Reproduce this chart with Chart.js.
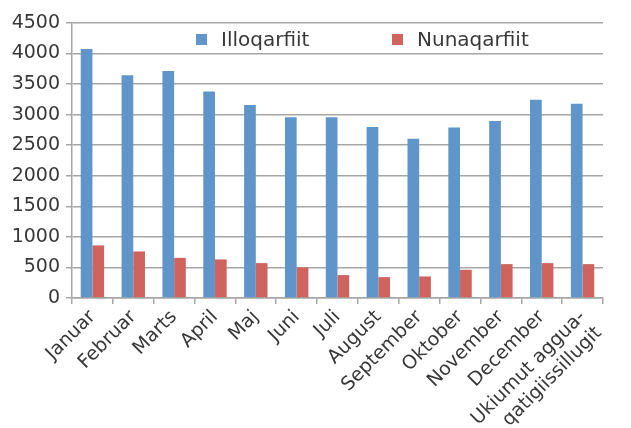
<!DOCTYPE html>
<html>
<head>
<meta charset="utf-8">
<script src="https://cdn.jsdelivr.net/npm/chart.js@4"></script>
<style>
    html, body { margin: 0; padding: 0; background: #fff; overflow: hidden; }
    .wrap { position: relative; width: 631px; height: 428px; }
</style>
</head>
<body>
<div class="wrap"><canvas id="barChart"></canvas></div>
<script>
        const months = ['Januar', 'Februar', 'Marts', 'April', 'Maj', 'Juni', 'Juli', 'August',
            'September', 'Oktober', 'November', 'December', ['Ukiumut aggua-', 'qatigiissillugit']];
        const illoqarfiit = [4075, 3645, 3715, 3380, 3157, 2956, 2958, 2800, 2607, 2792, 2897, 3245, 3180];
        const nunaqarfiit = [860, 762, 657, 631, 571, 500, 375, 342, 353, 462, 554, 571, 554];
        const yTicks = [0, 500, 1000, 1500, 2000, 2500, 3000, 3500, 4000, 4500];

        const textColor = '#383838';
        const lineColor = '#a6a6a6';

        // legend sits inside the plot area, drawn by hand so it can sit left of centre
        const innerLegend = {
            id: 'innerLegend',
            afterDraw(chart) {
                const ctx = chart.ctx;
                const area = chart.chartArea;
                const y = area.top + 16.5;
                let x = area.left + 124;
                ctx.save();
                ctx.font = '20px DejaVu Sans';
                ctx.textBaseline = 'middle';
                chart.data.datasets.forEach(ds => {
                    ctx.fillStyle = ds.backgroundColor;
                    ctx.fillRect(x, y - 5.5, 11, 11);
                    ctx.fillStyle = textColor;
                    ctx.fillText(ds.label, x + 25, y + 1);
                    x += 196;
                });
                ctx.restore();
            }
        };

        const barChart = new Chart(document.getElementById('barChart'), {
            type: 'bar',
            data: {
                labels: months,
                datasets: [
                    {
                        label: 'Illoqarfiit',
                        data: illoqarfiit,
                        backgroundColor: '#6095c9',
                        categoryPercentage: 0.573,
                        barPercentage: 1.0
                    },
                    {
                        label: 'Nunaqarfiit',
                        data: nunaqarfiit,
                        backgroundColor: '#cf645e',
                        categoryPercentage: 0.573,
                        barPercentage: 1.0
                    }
                ]
            },
            options: {
                responsive: true,
                maintainAspectRatio: false,
                animation: false,
                layout: { padding: { top: 23, right: 28, bottom: 0, left: 0 } },
                plugins: {
                    legend: { display: false },
                    tooltip: { enabled: false }
                },
                scales: {
                    x: {
                        grid: {
                            offset: true,
                            drawOnChartArea: false,
                            drawTicks: true,
                            tickLength: 6,
                            color: lineColor,
                            lineWidth: 1.5
                        },
                        border: { color: lineColor, width: 1.5 },
                        ticks: {
                            color: textColor,
                            font: { family: 'DejaVu Sans', size: 19 },
                            minRotation: 45,
                            maxRotation: 45,
                            autoSkip: false,
                            padding: 2
                        },
                        afterFit: (scale) => { scale.height = 130; }
                    },
                    y: {
                        min: 0,
                        max: 4500,
                        afterBuildTicks: (scale) => { scale.ticks = yTicks.map(v => ({ value: v })); },
                        grid: {
                            color: lineColor,
                            lineWidth: 1.5,
                            tickLength: 6
                        },
                        border: { color: lineColor, width: 1.5 },
                        ticks: {
                            color: textColor,
                            font: { family: 'DejaVu Sans', size: 19 },
                            padding: 6,
                            callback: (v) => String(v)
                        },
                        afterFit: (scale) => { scale.width = 72; }
                    }
                }
            },
            plugins: [innerLegend]
        });
</script>
</body>
</html>
